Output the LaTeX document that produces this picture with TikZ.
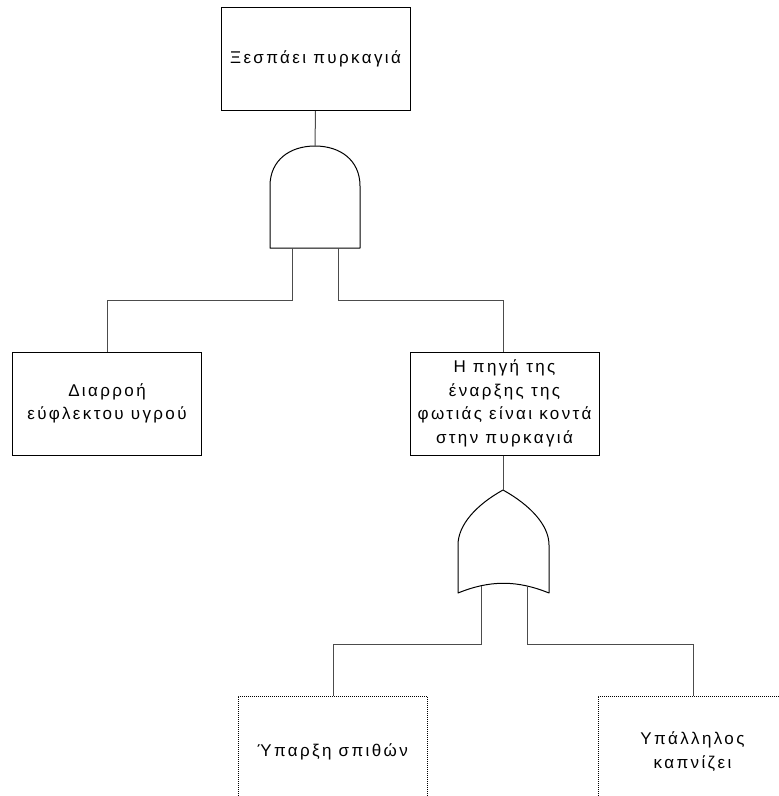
\documentclass[tikz,border=0pt]{standalone}
\usepackage{fontspec}
\setmainfont{Liberation Sans}[LetterSpace=14]
\begin{document}
\begin{tikzpicture}[x=1pt,y=-1pt,
  event/.style={draw=black,line width=1pt,rectangle,minimum width=189pt,minimum height=103pt,
    inner sep=0pt,align=center,font=\fontsize{17}{23.5}\selectfont},
  basic/.style={event,minimum height=111pt,dash pattern=on 1pt off 1pt},
  gate/.style={draw=black,line width=1pt,line join=round},
  link/.style={draw=black!70,line width=1pt}]
\useasboundingbox (0,0) rectangle (779,796);
\clip (0,0) rectangle (779,796);
\fill[white] (0,0) rectangle (779,796);

% events
\node[event] (fire) at (315.5,59) {Ξεσπάει πυρκαγιά};
\node[event] (leak) at (107,403.5) {Διαρροή\\εύφλεκτου υγρού};
\node[event] (source) at (504.5,403.5) {Η πηγή της\\έναρξης της\\φωτιάς είναι κοντά\\στην πυρκαγιά};
% basic events (their lower part runs off the sheet)
\node[basic] (spark) at (332.5,751.5) {Ύπαρξη σπιθών};
\node[basic] (smoke) at (692.5,751.5) {Υπάλληλος\\καπνίζει};

% AND gate
\draw[gate] (270,248) -- (270,186) .. controls (270,160) and (290,146) .. (315,146)
  .. controls (340,146) and (360,160) .. (360,186) -- (360,248) -- cycle;
\coordinate (andout) at (315,146);
\coordinate (andA) at (292,248);
\coordinate (andB) at (338,248);

% OR gate
\draw[gate] (503,490) .. controls (476,505) and (458,525) .. (458,545) -- (458,593)
  .. controls (490,580) and (517,580) .. (549,593) -- (549,545)
  .. controls (549,525) and (530,505) .. (503,490) -- cycle;
\coordinate (orout) at (503,490);
\coordinate (orA) at (481,586);
\coordinate (orB) at (527,586);

% connectors
\draw[link] (fire.south) -- (andout);
\draw[link] (andA) |- (107,300) -- (leak.north);
\draw[link] (andB) |- (503,300) -- (source.north -| 503,0);
\draw[link] (source.south -| 503,0) -- (orout);
\draw[link] (orA) |- (333,644) -- (spark.north -| 333,0);
\draw[link] (orB) |- (693,644) -- (smoke.north -| 693,0);
\end{tikzpicture}
\end{document}
